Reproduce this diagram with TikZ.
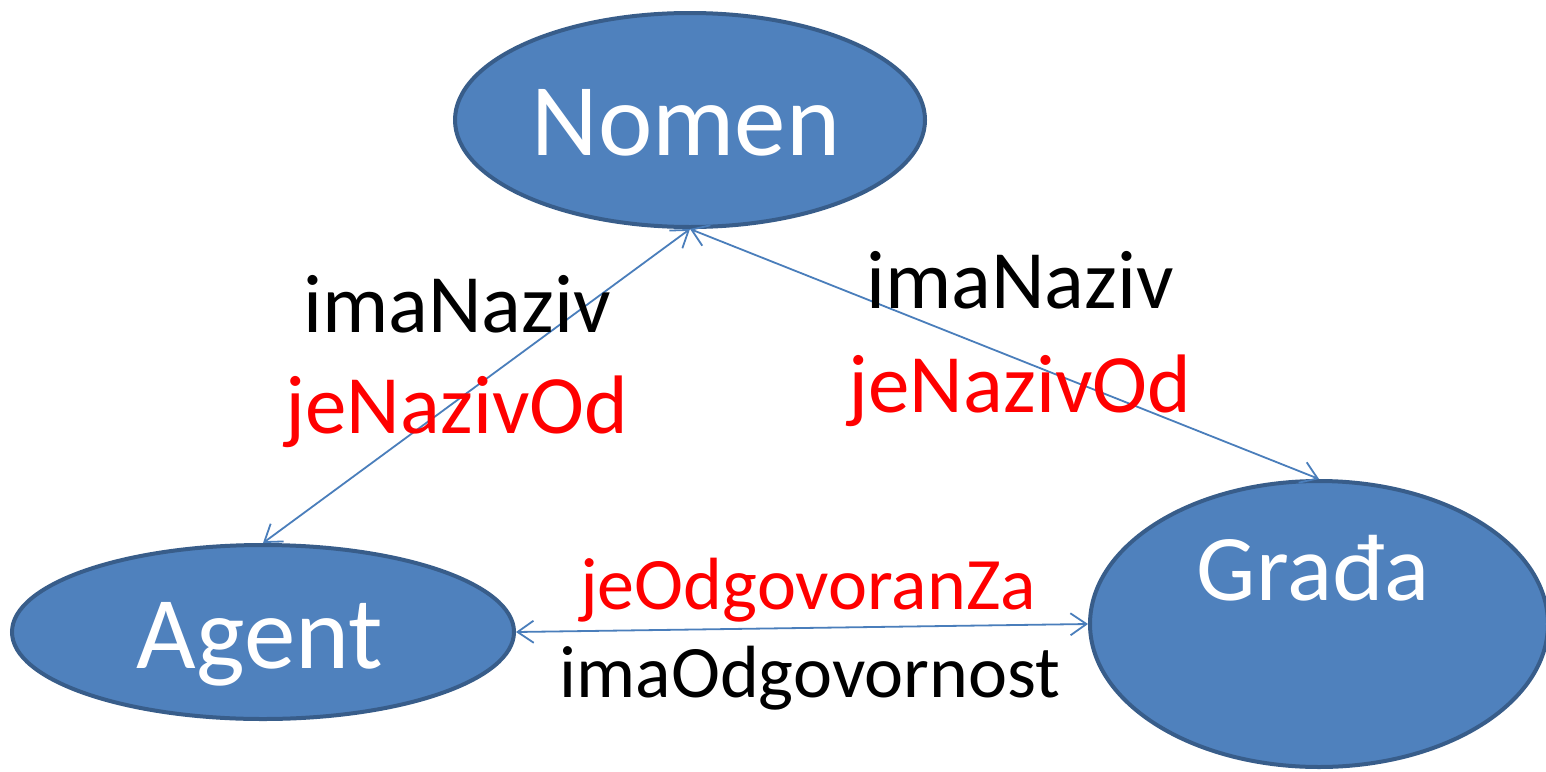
\documentclass[tikz,border=0pt]{standalone}
\usepackage{fontspec}
\setmainfont{Carlito}
\usetikzlibrary{shapes.geometric,arrows.meta}
\definecolor{nodefill}{HTML}{4F81BD}
\definecolor{nodeline}{HTML}{385D8A}
\definecolor{linkblue}{HTML}{4A7EBB}
\definecolor{lblred}{HTML}{FF0000}
\tikzset{
  concept/.style={ellipse, fill=nodefill, draw=nodeline, line width=4pt, inner sep=0pt},
  concepttext/.style={anchor=base, text=white, inner sep=0pt, font=\fontsize{103}{120}\selectfont},
  link/.style={draw=linkblue, line width=1.8pt, {Straight Barb[length=16pt,width=22pt,line width=1.8pt]}-{Straight Barb[length=16pt,width=22pt,line width=1.8pt]}},
  biglbl/.style={anchor=base, inner sep=0pt, font=\fontsize{83}{100}\selectfont},
  smalllbl/.style={anchor=base, inner sep=0pt, font=\fontsize{74}{90}\selectfont}
}
\begin{document}
\begin{tikzpicture}[x=1pt,y=-1pt]
\useasboundingbox[fill=white] (0,0) rectangle (1546,771);
\node[concept, minimum width=470pt, minimum height=214pt] (nomen) at (690,120) {};
\node[concept, minimum width=502pt, minimum height=174pt] (agent) at (263,632) {};
\node[concept, minimum width=458pt, minimum height=286pt] (grada) at (1319,624) {};
\node[concepttext] (nomenT) at (686,155) {Nomen};
\node[concepttext] (agentT) at (260,668) {Agent};
\node[concepttext, font=\fontsize{94}{110}\selectfont] (gradaT) at (1313,600) {Građa};
\draw[link] (nomen.south) -- (agent.north);
\draw[link] (nomen.south) -- (grada.north);
\draw[link] (agent.east) -- (grada.west);
\node[biglbl] (l1) at (457,332) {imaNaziv};
\node[biglbl, text=lblred] (l2) at (457,433) {jeNazivOd};
\node[biglbl] (l3) at (1020,308) {imaNaziv};
\node[biglbl, text=lblred] (l4) at (1020,412) {jeNazivOd};
\node[smalllbl, text=lblred] (l5) at (808,609) {jeOdgovoranZa};
\node[smalllbl] (l6) at (810,697) {imaOdgovornost};
\end{tikzpicture}
\end{document}
